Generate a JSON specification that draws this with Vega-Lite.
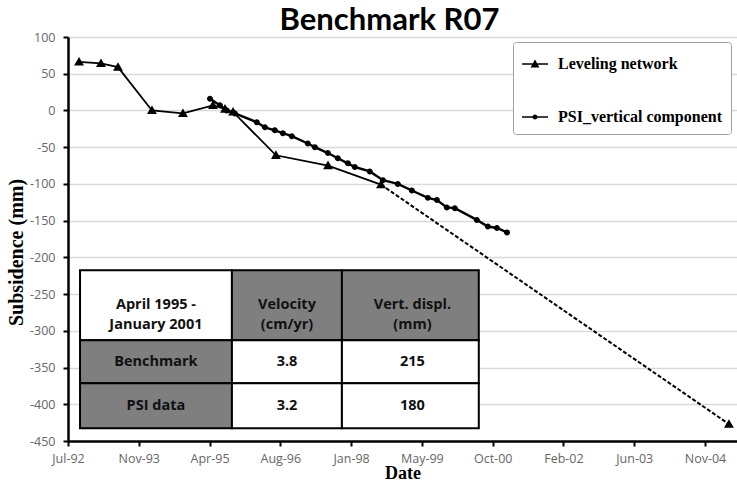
{
  "$schema": "https://vega.github.io/schema/vega-lite/v6.json",
  "width": 669,
  "height": 404,
  "autosize": "none",
  "padding": {"left": 68, "top": 37, "right": 0, "bottom": 52},
  "background": "white",
  "title": {"text": "Benchmark R07", "font": "Lato", "fontSize": 31, "fontWeight": "bold", "color": "black", "anchor": "middle", "offset": -6, "dx": -13},
  "config": {"view": {"stroke": null}},
  "resolve": {"scale": {"shape": "independent"}},
  "datasets": {
    "survey": [
      {"series": "Leveling network", "date": "1992-10-01", "mm": 66},
      {"series": "Leveling network", "date": "1993-03-05", "mm": 64},
      {"series": "Leveling network", "date": "1993-07-03", "mm": 59},
      {"series": "Leveling network", "date": "1994-02-28", "mm": 0},
      {"series": "Leveling network", "date": "1994-10-05", "mm": -4},
      {"series": "Leveling network", "date": "1995-05-05", "mm": 7},
      {"series": "Leveling network", "date": "1995-07-29", "mm": 2},
      {"series": "Leveling network", "date": "1995-09-24", "mm": -2},
      {"series": "Leveling network", "date": "1996-07-23", "mm": -61},
      {"series": "Leveling network", "date": "1997-07-26", "mm": -75},
      {"series": "Leveling network", "date": "1998-08-04", "mm": -101},
      {"series": "Leveling network", "date": "2005-04-27", "mm": -427},
      {"series": "PSI_vertical component", "date": "1995-04-14", "mm": 16},
      {"series": "PSI_vertical component", "date": "1995-06-23", "mm": 7},
      {"series": "PSI_vertical component", "date": "1995-08-11", "mm": 0},
      {"series": "PSI_vertical component", "date": "1995-10-07", "mm": -4},
      {"series": "PSI_vertical component", "date": "1996-03-10", "mm": -16},
      {"series": "PSI_vertical component", "date": "1996-05-06", "mm": -23},
      {"series": "PSI_vertical component", "date": "1996-07-15", "mm": -27},
      {"series": "PSI_vertical component", "date": "1996-09-10", "mm": -31},
      {"series": "PSI_vertical component", "date": "1996-11-12", "mm": -35},
      {"series": "PSI_vertical component", "date": "1997-03-05", "mm": -45},
      {"series": "PSI_vertical component", "date": "1997-04-24", "mm": -50},
      {"series": "PSI_vertical component", "date": "1997-07-25", "mm": -58},
      {"series": "PSI_vertical component", "date": "1997-10-03", "mm": -65},
      {"series": "PSI_vertical component", "date": "1997-12-13", "mm": -72},
      {"series": "PSI_vertical component", "date": "1998-01-31", "mm": -77},
      {"series": "PSI_vertical component", "date": "1998-05-17", "mm": -83},
      {"series": "PSI_vertical component", "date": "1998-08-18", "mm": -95},
      {"series": "PSI_vertical component", "date": "1998-12-01", "mm": -100},
      {"series": "PSI_vertical component", "date": "1999-03-10", "mm": -109},
      {"series": "PSI_vertical component", "date": "1999-07-01", "mm": -119},
      {"series": "PSI_vertical component", "date": "1999-09-03", "mm": -122},
      {"series": "PSI_vertical component", "date": "1999-11-12", "mm": -132},
      {"series": "PSI_vertical component", "date": "2000-01-08", "mm": -133},
      {"series": "PSI_vertical component", "date": "2000-06-11", "mm": -149},
      {"series": "PSI_vertical component", "date": "2000-08-28", "mm": -158},
      {"series": "PSI_vertical component", "date": "2000-10-31", "mm": -160},
      {"series": "PSI_vertical component", "date": "2001-01-10", "mm": -166}
    ],
    "table": [
      {"x1": "1992-10-08", "x2": "1995-09-16", "y1": -217.6, "y2": -312.9, "tx": "1994-03-28", "ty": -265, "kind": "value", "label": "April 1995 -\nJanuary 2001"},
      {"x1": "1995-09-16", "x2": "1997-11-01", "y1": -217.6, "y2": -312.9, "tx": "1996-10-09", "ty": -265, "kind": "header", "label": "Velocity\n(cm/yr)"},
      {"x1": "1997-11-01", "x2": "2000-06-25", "y1": -217.6, "y2": -312.9, "tx": "1999-03-14", "ty": -265, "kind": "header", "label": "Vert.  displ.\n(mm)"},
      {"x1": "1992-10-08", "x2": "1995-09-16", "y1": -312.9, "y2": -371.5, "tx": "1994-03-28", "ty": -342, "kind": "header", "label": "Benchmark"},
      {"x1": "1995-09-16", "x2": "1997-11-01", "y1": -312.9, "y2": -371.5, "tx": "1996-10-09", "ty": -342, "kind": "value", "label": "3.8"},
      {"x1": "1997-11-01", "x2": "2000-06-25", "y1": -312.9, "y2": -371.5, "tx": "1999-03-14", "ty": -342, "kind": "value", "label": "215"},
      {"x1": "1992-10-08", "x2": "1995-09-16", "y1": -371.5, "y2": -432.8, "tx": "1994-03-28", "ty": -402, "kind": "header", "label": "PSI data"},
      {"x1": "1995-09-16", "x2": "1997-11-01", "y1": -371.5, "y2": -432.8, "tx": "1996-10-09", "ty": -402, "kind": "value", "label": "3.2"},
      {"x1": "1997-11-01", "x2": "2000-06-25", "y1": -371.5, "y2": -432.8, "tx": "1999-03-14", "ty": -402, "kind": "value", "label": "180"}
    ]
  },
  "layer": [
    {
      "data": {"name": "table"},
      "mark": {"type": "rect", "stroke": "black", "strokeWidth": 2},
      "encoding": {
        "x": {"field": "x1", "type": "temporal", "title": "Date", "scale": {"type": "utc", "domain": [{"year": 1992, "month": 7, "date": 15, "utc": true}, {"year": 2005, "month": 6, "date": 23, "utc": true}]}},
        "x2": {"field": "x2"},
        "y": {"field": "y1", "type": "quantitative", "title": "Subsidence (mm)", "scale": {"domain": [-450, 100], "nice": false, "zero": false}},
        "y2": {"field": "y2"},
        "fill": {"field": "kind", "type": "nominal", "scale": {"domain": ["header", "value"], "range": ["#7f7f7f", "#ffffff"]}, "legend": null}
      }
    },
    {
      "data": {"name": "table"},
      "mark": {"type": "text", "font": "Open Sans", "fontSize": 14.5, "fontWeight": "bold", "color": "#111", "lineBreak": "\n", "lineHeight": 20, "baseline": "middle", "align": "center"},
      "encoding": {
        "x": {"field": "tx", "type": "temporal", "title": "Date", "scale": {"type": "utc", "domain": [{"year": 1992, "month": 7, "date": 15, "utc": true}, {"year": 2005, "month": 6, "date": 23, "utc": true}]}},
        "y": {"field": "ty", "type": "quantitative", "title": "Subsidence (mm)", "scale": {"domain": [-450, 100], "nice": false, "zero": false}},
        "text": {"field": "label"}
      }
    },
    {
      "data": {"name": "survey"},
      "transform": [{"filter": "datum.series == 'Leveling network' && time(datum.date) <= utc(1998, 7, 4)"}],
      "mark": {"type": "line", "color": "black", "strokeWidth": 1.8},
      "encoding": {
        "x": {"field": "date", "type": "temporal", "title": "Date", "scale": {"type": "utc", "domain": [{"year": 1992, "month": 7, "date": 15, "utc": true}, {"year": 2005, "month": 6, "date": 23, "utc": true}]},
          "axis": {"values": [
            {"year": 1992, "month": 7, "date": 15, "utc": true},
            {"year": 1993, "month": 11, "date": 27, "utc": true},
            {"year": 1995, "month": 4, "date": 11, "utc": true},
            {"year": 1996, "month": 8, "date": 23, "utc": true},
            {"year": 1998, "month": 1, "date": 5, "utc": true},
            {"year": 1999, "month": 5, "date": 20, "utc": true},
            {"year": 2000, "month": 10, "date": 1, "utc": true},
            {"year": 2002, "month": 2, "date": 13, "utc": true},
            {"year": 2003, "month": 6, "date": 28, "utc": true},
            {"year": 2004, "month": 11, "date": 9, "utc": true}],
            "tickCount": 20,
            "format": "%b-%y", "grid": false, "labelColor": "#666", "labelFont": "Open Sans", "labelFontSize": 12.5, "labelPadding": 6, "labelFlush": false, "labelOverlap": false,
            "tickColor": "black", "tickSize": 5, "tickWidth": 2, "domainColor": "black", "domainWidth": 2.5,
            "titleFont": "Liberation Serif", "titleFontSize": 18, "titleFontWeight": "bold", "titleColor": "black", "titlePadding": 0}},
        "y": {"field": "mm", "type": "quantitative", "title": "Subsidence (mm)", "scale": {"domain": [-450, 100], "nice": false, "zero": false},
          "axis": {"values": [-450, -400, -350, -300, -250, -200, -150, -100, -50, 0, 50, 100], "tickCount": 20, "labelExpr": "'' + datum.value", "labelOverlap": false,
            "grid": true, "gridColor": "#d9d9d9", "gridWidth": 1.5, "labelColor": "#666", "labelFont": "Open Sans", "labelFontSize": 12.5, "labelPadding": 8,
            "tickColor": "black", "tickSize": 5, "tickWidth": 2, "domainColor": "black", "domainWidth": 2.5,
            "titleFont": "Liberation Serif", "titleFontSize": 20, "titleFontWeight": "bold", "titleColor": "black", "titlePadding": 3, "titleY": 215}}
      }
    },
    {
      "data": {"name": "survey"},
      "transform": [{"filter": "datum.series == 'Leveling network' && time(datum.date) >= utc(1998, 7, 4)"}],
      "mark": {"type": "line", "color": "black", "strokeWidth": 2, "strokeDash": [4, 2]},
      "encoding": {
        "x": {"field": "date", "type": "temporal", "title": "Date", "scale": {"type": "utc", "domain": [{"year": 1992, "month": 7, "date": 15, "utc": true}, {"year": 2005, "month": 6, "date": 23, "utc": true}]}},
        "y": {"field": "mm", "type": "quantitative", "title": "Subsidence (mm)", "scale": {"domain": [-450, 100], "nice": false, "zero": false}}
      }
    },
    {
      "data": {"name": "survey"},
      "transform": [{"filter": "datum.series == 'PSI_vertical component'"}],
      "mark": {"type": "line", "color": "black", "strokeWidth": 2.4},
      "encoding": {
        "x": {"field": "date", "type": "temporal", "title": "Date", "scale": {"type": "utc", "domain": [{"year": 1992, "month": 7, "date": 15, "utc": true}, {"year": 2005, "month": 6, "date": 23, "utc": true}]}},
        "y": {"field": "mm", "type": "quantitative", "title": "Subsidence (mm)", "scale": {"domain": [-450, 100], "nice": false, "zero": false}}
      }
    },
    {
      "data": {"name": "survey"},
      "mark": {"type": "point", "filled": true, "opacity": 1, "color": "black", "size": 676},
      "encoding": {
        "x": {"field": "date", "type": "temporal", "title": "Date", "scale": {"type": "utc", "domain": [{"year": 1992, "month": 7, "date": 15, "utc": true}, {"year": 2005, "month": 6, "date": 23, "utc": true}]}},
        "y": {"field": "mm", "type": "quantitative", "title": "Subsidence (mm)", "scale": {"domain": [-450, 100], "nice": false, "zero": false}},
        "shape": {"field": "series", "type": "nominal", "legend": null,
          "scale": {"domain": ["Leveling network", "PSI_vertical component"], "range": ["M-0.38,0.28L0,-0.38L0.38,0.28Z", "M0.23,0A0.23,0.23,0,1,1,-0.23,0A0.23,0.23,0,1,1,0.23,0Z"]}}
      }
    },
    {
      "data": {"values": [{"entry": "Leveling network"}, {"entry": "PSI_vertical component"}]},
      "mark": {"type": "point", "filled": true, "color": "black", "size": 676},
      "encoding": {
        "opacity": {"value": 0},
        "shape": {"field": "entry", "type": "nominal",
          "scale": {"domain": ["Leveling network", "PSI_vertical component"], "range": ["M-1,-0.065H1V0.065H-1ZM-0.34,0.26L0,-0.34L0.34,0.26Z", "M-1,-0.065H1V0.065H-1ZM0.19,0A0.19,0.19,0,1,1,-0.19,0A0.19,0.19,0,1,1,0.19,0Z"]},
          "legend": {"orient": "none", "legendX": 445, "legendY": 5, "title": null, "direction": "vertical",
            "fillColor": "white", "strokeColor": "#a0a0a0", "cornerRadius": 3, "padding": 9, "rowPadding": 32,
            "symbolSize": 676, "symbolFillColor": "black", "symbolStrokeWidth": 0, "symbolOpacity": 1,
            "labelFont": "Liberation Serif", "labelFontSize": 16, "labelFontWeight": "bold", "labelColor": "black", "labelOffset": 10, "labelLimit": 300}}
      }
    }
  ]
}
